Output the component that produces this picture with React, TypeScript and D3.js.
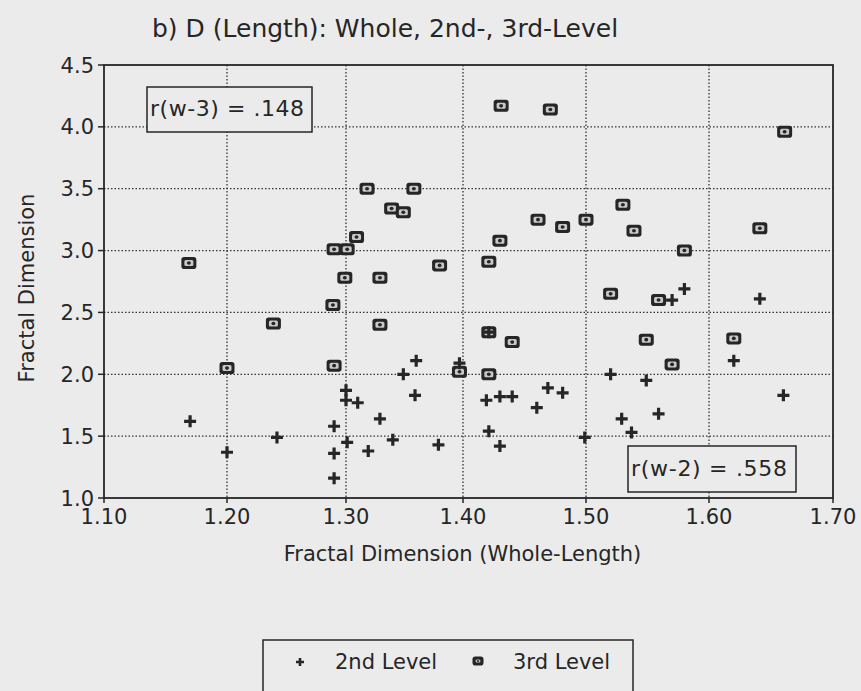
import React from 'react';
import * as d3 from 'd3';

// Whole-length D on x, 2nd/3rd level D on y
const level2X = [1.170, 1.200, 1.242, 1.290, 1.290, 1.290, 1.301, 1.300, 1.300, 1.310, 1.319, 1.329, 1.340, 1.349, 1.360, 1.359, 1.379, 1.397, 1.421, 1.419, 1.430, 1.440, 1.421, 1.430, 1.460, 1.469, 1.481, 1.499, 1.520, 1.529, 1.537, 1.549, 1.559, 1.570, 1.580, 1.620, 1.641, 1.660];
const level2Y = [1.62, 1.37, 1.49, 1.16, 1.36, 1.58, 1.45, 1.79, 1.87, 1.77, 1.38, 1.64, 1.47, 2.00, 2.11, 1.83, 1.43, 2.09, 2.34, 1.79, 1.82, 1.82, 1.54, 1.42, 1.73, 1.89, 1.85, 1.49, 2.00, 1.64, 1.53, 1.95, 1.68, 2.60, 2.69, 2.11, 2.61, 1.83];

const level3X = [1.169, 1.200, 1.239, 1.289, 1.290, 1.290, 1.301, 1.299, 1.309, 1.318, 1.329, 1.329, 1.339, 1.349, 1.358, 1.380, 1.397, 1.421, 1.421, 1.421, 1.430, 1.431, 1.440, 1.461, 1.471, 1.481, 1.500, 1.520, 1.530, 1.539, 1.549, 1.559, 1.570, 1.580, 1.620, 1.641, 1.661];
const level3Y = [2.90, 2.05, 2.41, 2.56, 2.07, 3.01, 3.01, 2.78, 3.11, 3.50, 2.78, 2.40, 3.34, 3.31, 3.50, 2.88, 2.02, 2.91, 2.34, 2.00, 3.08, 4.17, 2.26, 3.25, 4.14, 3.19, 3.25, 2.65, 3.37, 3.16, 2.28, 2.60, 2.08, 3.00, 2.29, 3.18, 3.96];

const xTicks = [1.1, 1.2, 1.3, 1.4, 1.5, 1.6, 1.7];
const yTicks = [1.0, 1.5, 2.0, 2.5, 3.0, 3.5, 4.0, 4.5];

const title = 'b)  D (Length): Whole, 2nd-, 3rd-Level';
const xLabel = 'Fractal Dimension (Whole-Length)';
const yLabel = 'Fractal Dimension';
const corrLabels = ['r(w-3) = .148', 'r(w-2) = .558'];
const legendLabels = ['2nd Level', '3rd Level'];

const BG = '#ebebeb';
const INK = '#262626';
const FONT = '"DejaVu Sans", Arial, sans-serif';

// the scanned axis is slightly uneven, so the x scale is piecewise
const x = d3.scaleLinear().domain(xTicks).range([104, 227, 346, 463, 586, 709, 833]);
const y = d3.scaleLinear().domain([1.0, 4.5]).range([498, 65]);

function Plus({ cx, cy, s = 6, w = 3.2 }) {
  return (
    <path
      d={`M${cx - s},${cy}H${cx + s}M${cx},${cy - s}V${cy + s}`}
      stroke={INK}
      strokeWidth={w}
      fill="none"
    />
  );
}

// dark rounded box with a light "⊠"-like hole pattern
function BoxMark({ cx, cy, w = 15, h = 12 }) {
  const iw = w - 6;
  const ih = h - 6;
  return (
    <g transform={`translate(${cx},${cy})`}>
      <rect x={-w / 2} y={-h / 2} width={w} height={h} rx={2.8} fill={INK} />
      <rect x={-iw / 2} y={-ih / 2} width={iw} height={ih} rx={1.5} fill="#c9c9c9" />
      <ellipse cx={0} cy={0} rx={iw * 0.22} ry={ih * 0.3} fill={INK} />
    </g>
  );
}

export default function App() {
  const x0 = x(xTicks[0]);
  const x1 = x(xTicks[xTicks.length - 1]);
  const yBot = y(1.0);
  const yTop = y(4.5);

  return (
    <svg
      width={861}
      height={691}
      style={{ position: 'absolute', left: 0, top: 0, display: 'block', background: BG }}
      fontFamily={FONT}
    >
      <rect width={861} height={691} fill={BG} />

      <text x={152} y={37} fontSize={25} fill={INK}>{title}</text>

      {/* dotted grid */}
      {yTicks.slice(1, -1).map((t) => (
        <line key={`gy${t}`} x1={x0} x2={x1} y1={y(t)} y2={y(t)}
          stroke="#333" strokeWidth={1.3} strokeDasharray="1.5,2" />
      ))}
      {xTicks.slice(1, -1).map((t) => (
        <line key={`gx${t}`} x1={x(t)} x2={x(t)} y1={yTop} y2={yBot}
          stroke="#333" strokeWidth={1.3} strokeDasharray="1.5,2" />
      ))}

      {/* frame */}
      <rect x={x0} y={yTop} width={x1 - x0} height={yBot - yTop} fill="none" stroke={INK} strokeWidth={1.8} />

      {/* ticks + labels */}
      {yTicks.map((t) => (
        <g key={`ty${t}`}>
          <line x1={x0 - 6} x2={x0} y1={y(t)} y2={y(t)} stroke={INK} strokeWidth={1.5} />
          <text x={x0 - 10} y={y(t)} dy="0.36em" textAnchor="end" fontSize={21} fill={INK}>
            {t.toFixed(1)}
          </text>
        </g>
      ))}
      {xTicks.map((t) => (
        <g key={`tx${t}`}>
          <line x1={x(t)} x2={x(t)} y1={yBot} y2={yBot + 5} stroke={INK} strokeWidth={1.5} />
          <text x={x(t)} y={524} textAnchor="middle" fontSize={21} fill={INK}>
            {t.toFixed(2)}
          </text>
        </g>
      ))}

      <text x={(x0 + x1) / 2 - 6} y={561} textAnchor="middle" fontSize={21} fill={INK}>{xLabel}</text>
      <text transform="translate(34,288) rotate(-90)" textAnchor="middle" fontSize={21} fill={INK}>{yLabel}</text>

      {/* correlation boxes */}
      <rect x={147} y={87} width={165} height={45} fill={BG} stroke={INK} strokeWidth={1.5} />
      <text x={150} y={116} fontSize={22} fill={INK} textLength={154} lengthAdjust="spacing">{corrLabels[0]}</text>
      <rect x={628} y={446} width={168} height={46} fill={BG} stroke={INK} strokeWidth={1.5} />
      <text x={631} y={476} fontSize={22} fill={INK} textLength={156} lengthAdjust="spacing">{corrLabels[1]}</text>

      {/* points */}
      {level3X.map((v, i) => (
        <BoxMark key={`l3${i}`} cx={x(v)} cy={y(level3Y[i])} />
      ))}
      {level2X.map((v, i) => (
        <Plus key={`l2${i}`} cx={x(v)} cy={y(level2Y[i])} />
      ))}

      {/* legend */}
      <rect x={263} y={640} width={370} height={70} fill="none" stroke={INK} strokeWidth={1.5} />
      <Plus cx={300} cy={662} s={4} w={2.6} />
      <text x={335} y={669} fontSize={21} fill={INK}>{legendLabels[0]}</text>
      <BoxMark cx={478} cy={661} w={11} h={9} />
      <text x={513} y={669} fontSize={21} fill={INK}>{legendLabels[1]}</text>
    </svg>
  );
}
